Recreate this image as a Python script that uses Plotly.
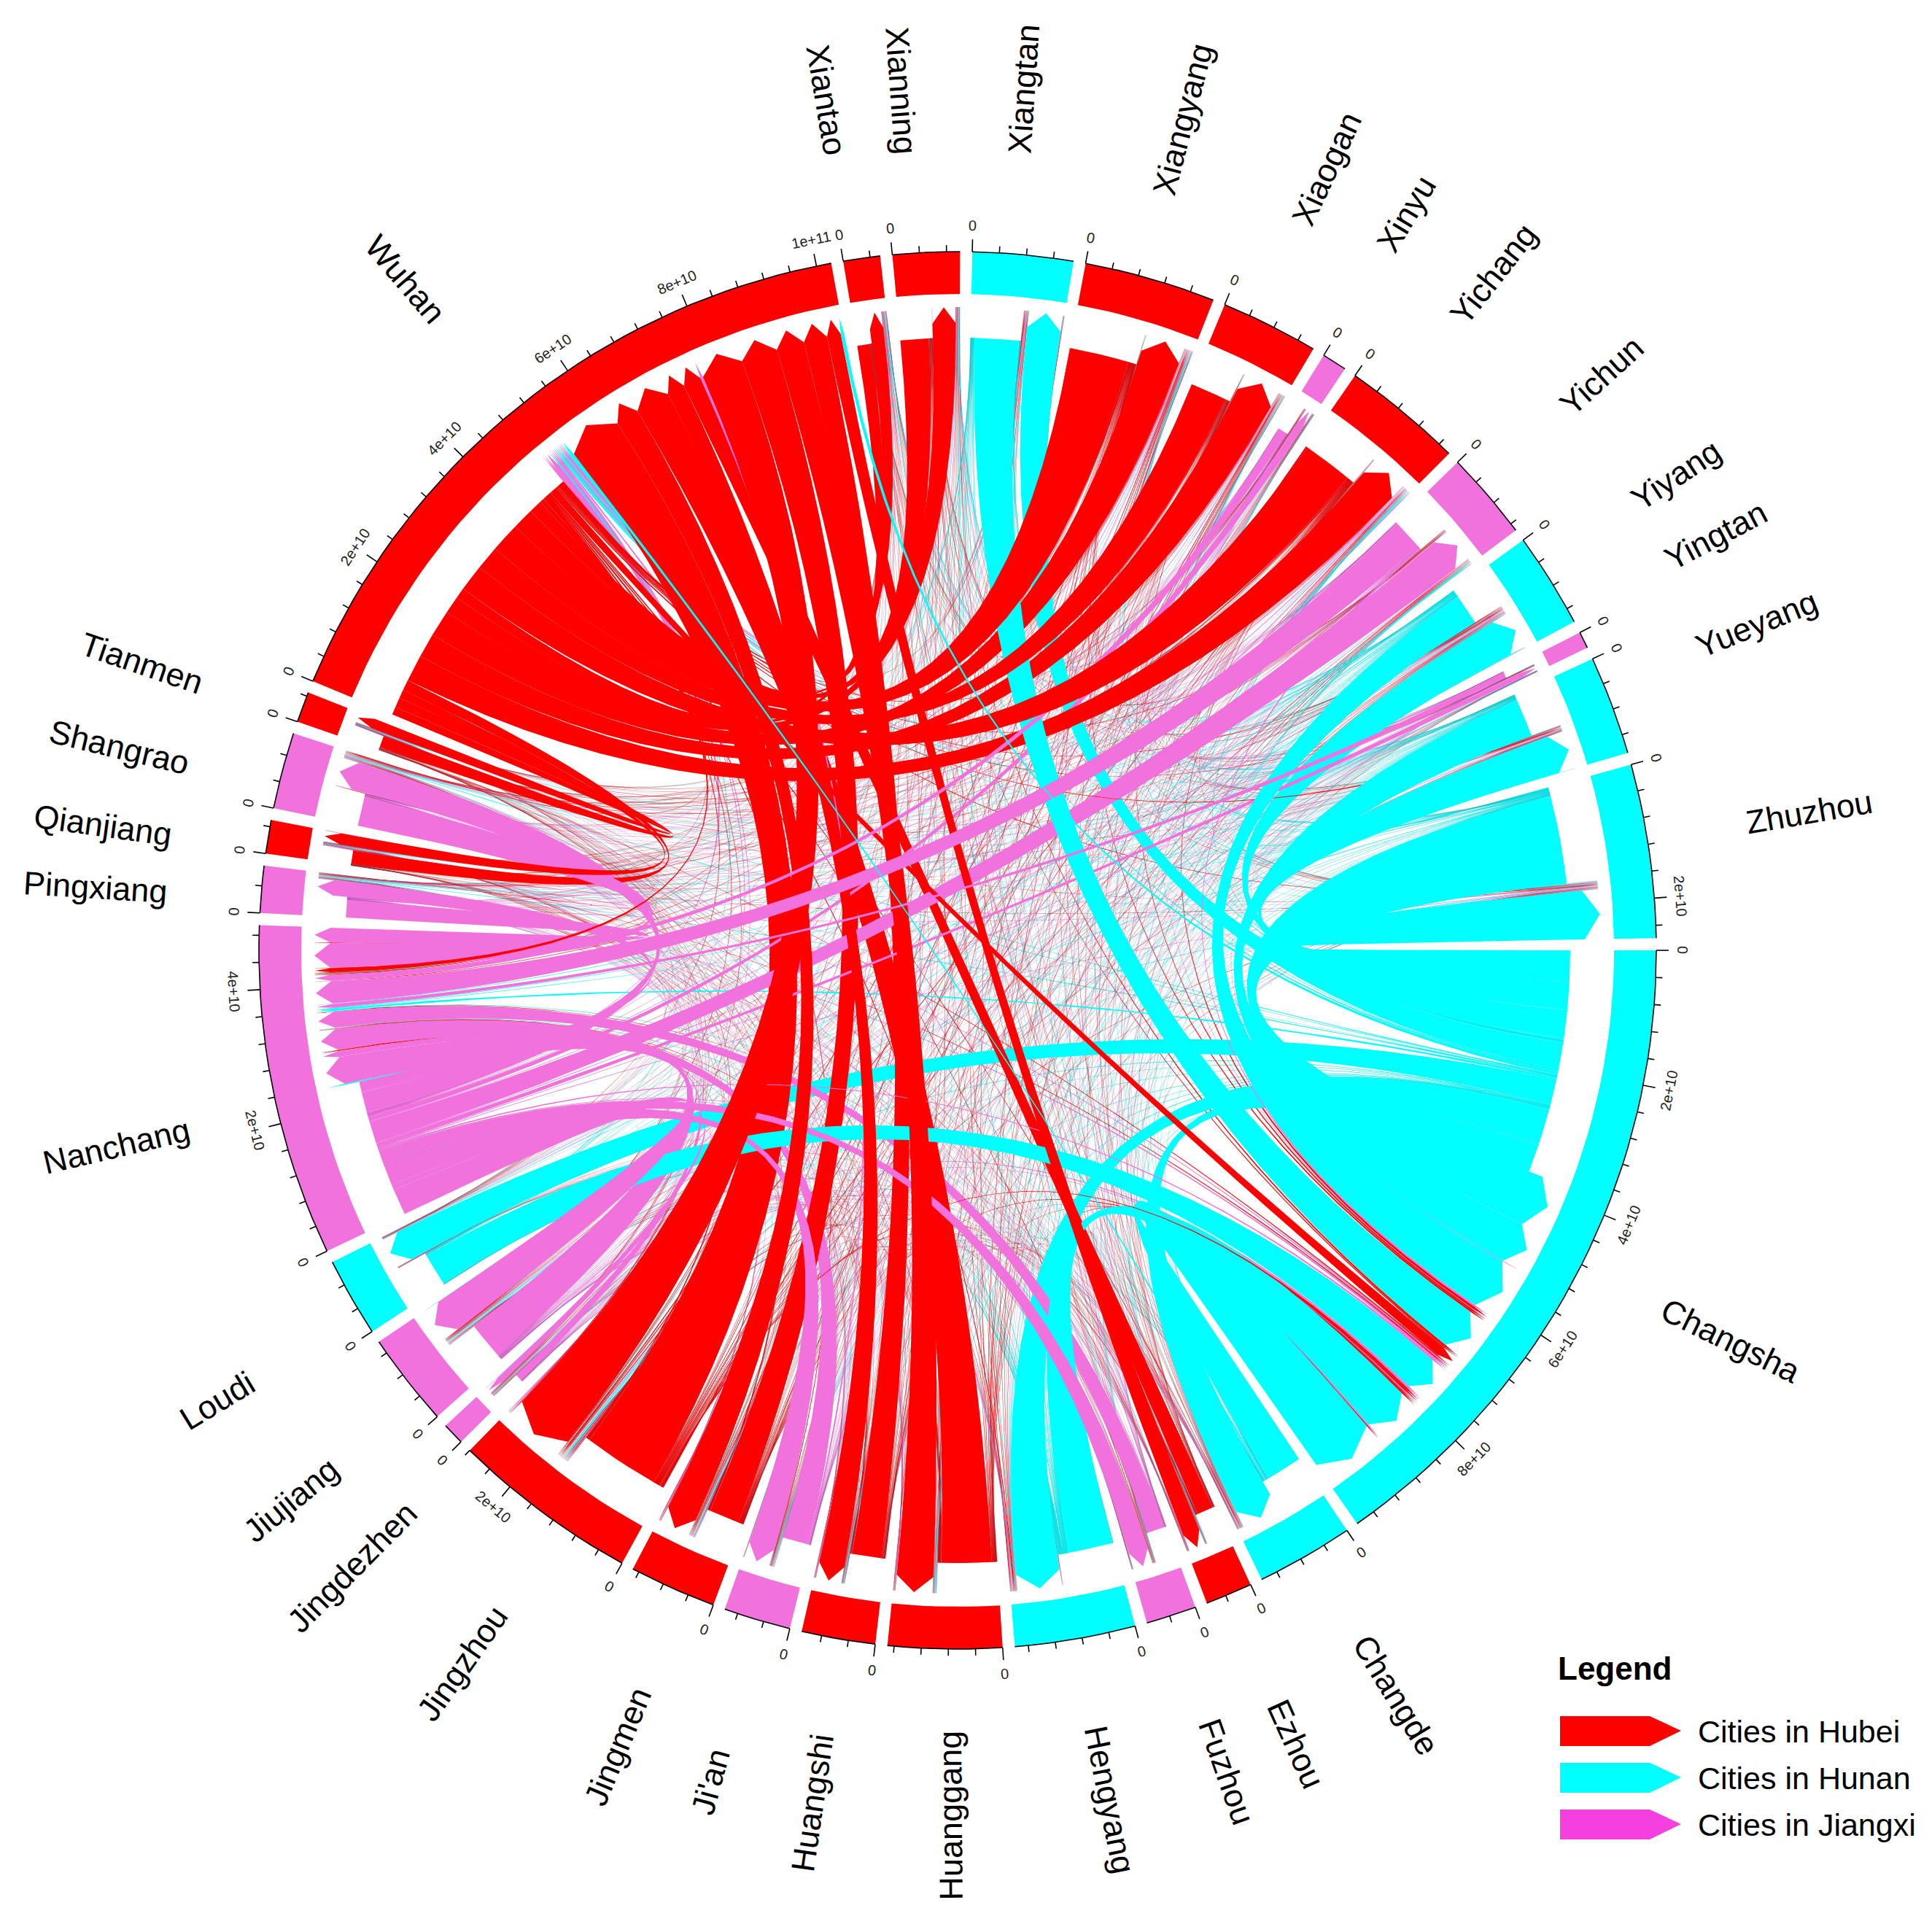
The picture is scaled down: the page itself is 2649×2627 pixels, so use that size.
import math
import plotly.graph_objects as go

# sectors clockwise from east, values in units of 1e10
cities = ["Changsha", "Changde", "Ezhou", "Fuzhou", "Hengyang", "Huanggang", "Huangshi", "Ji'an",
          "Jingmen", "Jingzhou", "Jingdezhen", "Jiujiang", "Loudi", "Nanchang", "Pingxiang", "Qianjiang",
          "Shangrao", "Tianmen", "Wuhan", "Xiantao", "Xianning", "Xiangtan", "Xiangyang", "Xiaogan",
          "Xinyu", "Yichang", "Yichun", "Yiyang", "Yingtan", "Yueyang", "Zhuzhou"]
provinces = ["Hunan", "Hunan", "Hubei", "Jiangxi", "Hunan", "Hubei", "Hubei", "Jiangxi",
             "Hubei", "Hubei", "Jiangxi", "Jiangxi", "Hunan", "Jiangxi", "Jiangxi", "Hubei",
             "Jiangxi", "Hubei", "Hubei", "Hubei", "Hubei", "Hunan", "Hubei", "Hubei",
             "Jiangxi", "Hubei", "Jiangxi", "Hunan", "Jiangxi", "Hunan", "Hunan"]
sector_out = [3.8, .72, .35, .35, .95, 1.0, .6, .48, .65, 1.55, .15, .72, .62, 2.35, .35, .26,
              .55, .25, 4.9, .25, .55, .85, 1.15, .7, .18, 1.0, .62, .65, .12, .75, 1.65]
sector_in = [6.1, .73, .35, .4, .85, .7, .5, .52, .65, 1.25, .18, .68, .56, 2.6, .35, .24,
             .59, .21, 5.32, .3, .45, .65, .81, .76, .19, .8, .7, .77, .13, .73, .94]

# visible flows: width at the source end and width at the arrow end
flow_from = ["Changsha"] * 10 + ["Zhuzhou", "Yueyang", "Yiyang", "Xiangtan", "Loudi", "Hengyang", "Changde",
             "Wuhan", "Nanchang", "Jingzhou", "Yichun"] + ["Wuhan"] * 14 + [
             "Ezhou", "Huanggang", "Huangshi", "Jingmen", "Jingzhou", "Qianjiang", "Tianmen", "Xiantao",
             "Xianning", "Xiangyang", "Xiaogan", "Yichang", "Ji'an", "Changde"] + ["Nanchang"] * 9 + [
             "Pingxiang", "Shangrao", "Jiujiang", "Jingdezhen", "Fuzhou", "Ji'an", "Xinyu", "Yichun", "Yingtan"]
flow_to = ["Zhuzhou", "Yueyang", "Yiyang", "Xiangtan", "Loudi", "Hengyang", "Changde", "Wuhan", "Nanchang", "Yichun"] + [
           "Changsha"] * 11 + ["Ezhou", "Huanggang", "Huangshi", "Jingmen", "Jingzhou", "Qianjiang", "Tianmen",
           "Xiantao", "Xianning", "Xiangyang", "Xiaogan", "Yichang", "Nanchang", "Yueyang"] + ["Wuhan"] * 14 + [
           "Pingxiang", "Shangrao", "Jiujiang", "Jingdezhen", "Fuzhou", "Ji'an", "Xinyu", "Yichun", "Yingtan"] + [
           "Nanchang"] * 9
flow_at_from = [.55, .5, .5, .48, .45, .62, .5, .06, .04, .02,
                1.5, .65, .5, .75, .55, .75, .62, .14, .03, .02, .03,
                .25, .5, .32, .42, .75, .16, .15, .2, .32, .5, .45, .5, .08, .02,
                .28, .85, .5, .52, 1.3, .22, .2, .22, .48, 1.0, .62, .85, .03, .03,
                .2, .4, .5, .1, .28, .38, .1, .42, .09,
                .3, .5, .62, .12, .3, .42, .14, .52, .09]
flow_at_to = [.8, .62, .6, .55, .5, .72, .62, .06, .04, .02,
              .85, .68, .85, .68, .58, .75, 1.05, .16, .03, .03, .03,
              .28, .6, .42, .5, 1.0, .18, .16, .22, .38, .65, .62, .62, .08, .02,
              .32, .62, .42, .65, .95, .2, .18, .2, .4, .55, .45, .5, .05, .05,
              .25, .45, .55, .1, .32, .42, .12, .55, .08,
              .3, .5, .55, .12, .32, .42, .12, .45, .08]
# thin threads drawn above the wide red fan
threads_on_top = [("Changde", "Wuhan"), ("Changsha", "Wuhan")]

# Wuhan's two fans, clockwise; a = Wuhan is the source, b = Wuhan is the target, None = all the rest
flat_partners = ["Tianmen", "Tianmen", "Qianjiang", "Qianjiang", "Yichang", "Xiaogan", "Xiangyang",
                 "Xianning", "Xiantao", "Yichang", "Xiaogan", "Xiangyang", "Xianning", "Xiantao", None]
flat_ends = ["a", "b", "a", "b", "a", "a", "a", "a", "a", "b", "b", "b", "b", "b", None]
arrow_partners = [None, "Changde", "Jingzhou", "Jingmen", "Huanggang", "Huangshi", "Ezhou", "Ji'an",
                  "Jingzhou", "Jingmen", "Huanggang", "Huangshi", "Ezhou", "Changsha"]
arrow_ends = [None, "b", "b", "a", "b", "a", "b", "b", "a", "b", "a", "b", "a", "b"]

# faint flows between all the other pairs, one digit per target city, same order as cities
weak_rows = [
    "03412 54232 23534 12416 23532 43524 4",
    "40213 22121 12312 11203 12121 21312 3",
    "21012 43122 11211 21412 21332 13211 2",
    "21101 22312 32121 31212 11111 13123 1",
    "51210 32312 21312 11303 12221 22312 4",
    "32312 04323 12212 21632 23432 24212 3",
    "22413 40222 12211 21422 22321 14211 2",
    "21121 11032 12322 31211 11112 14112 1",
    "31112 22102 11211 22521 12343 13211 2",
    "42213 22140 12322 32631 23443 25213 3",
    "11111 11211 02211 21111 11111 11121 1",
    "32122 43121 20322 21412 11211 22223 2",
    "42112 11211 12032 11212 31111 12312 4",
    "53323 33423 34305 34635 34333 35434 4",
    "31112 11311 22230 12112 21111 24112 3",
    "21111 12012 11111 02511 11221 11111 1",
    "21111 22121 21311 10211 11111 13132 1",
    "21111 21112 11111 10511 11322 11111 1",
    "54546 56546 34635 44604 55566 65456 5",
    "21111 11122 11111 21401 11122 11111 1",
    "31211 32122 12211 11520 11321 12112 2",
    "62112 22122 11412 11311 10112 11312 5",
    "32212 32144 11211 22622 20442 13212 2",
    "32212 32133 11211 22622 21032 13212 2",
    "11111 11111 11211 21111 11102 12111 1",
    "42212 22144 12211 22722 12330 13312 3",
    "31111 11211 12243 12312 11111 20112 2",
    "51111 21111 11411 11312 21111 21012 4",
    "11111 11111 22211 11111 11111 11101 1",
    "62112 32122 12312 11411 21211 11210 3",
    "73212 21112 12412 11312 51111 22413 0",
]

colors = {"Hubei": "#FF0000", "Hunan": "#00FFFF", "Jiangxi": "#F171DD"}
weak_edges = {"Hubei": "rgba(165,35,45,0.35)", "Hunan": "rgba(50,175,190,0.35)", "Jiangxi": "rgba(185,85,180,0.35)"}
legend_labels = ["Cities in Hubei", "Cities in Hunan", "Cities in Jiangxi"]
legend_colors = ["#FF0000", "#00FFFF", "#F53FDF"]
tick_step = 0.4
major_every = 5

# hand nudges for the city names, the original sets them a little off the sector middles
label_dx = [5, 10, 10, 8, 5, 7, 2, -5, 8, 16, 26, 13, -9, 5, 7, 6, -2, -10, -20, -11, -14, -12, -13, -11, -3,
            -9, 0, -1, -8, -3, 3]
label_dy = [-2, 7, 22, 17, 3, -1, 6, 28, 17, 20, 11, 20, 33, 22, 17, 20, 22, 15, -8, 5, 10, 6, 13, -6, -18,
            -8, -12, -15, -22, -15, -7]

W, H = 2649, 2627
# the page adds an 8px body margin, so everything is placed 8px up and left
CX, CY = 1305, 1295
R_OUT, R_IN = 958, 900
R_FLAT, R_SHOULDER, R_TIP = 840, 860, 882
GAP = 1.0
FONT = "Liberation Sans, Arial, sans-serif"

n = len(cities)
index = {c: i for i, c in enumerate(cities)}
totals = [a + b for a, b in zip(sector_out, sector_in)]
deg_per_unit = (360 - n * GAP) / sum(totals)
hub = index["Wuhan"]
flat_order = list(zip(flat_partners, flat_ends))
arrow_order = list(zip(arrow_partners, arrow_ends))


def pol(theta, r):
    t = math.radians(theta)
    return CX + r * math.cos(t), CY + r * math.sin(t)


def arc(t1, t2, r):
    steps = max(2, int(abs(t2 - t1) / 1.5) + 2)
    return [pol(t1 + (t2 - t1) * k / (steps - 1), r) for k in range(steps)]


def bezier(p0, p1, steps=28):
    # quadratic curve pulled to the centre of the circle, like circlize links
    pts = []
    for k in range(steps + 1):
        s = k / steps
        pts.append(((1 - s) ** 2 * p0[0] + 2 * s * (1 - s) * CX + s ** 2 * p1[0],
                    (1 - s) ** 2 * p0[1] + 2 * s * (1 - s) * CY + s ** 2 * p1[1]))
    return pts


def end_points(span, zone):
    if zone == "flat":
        return arc(span[0], span[1], R_FLAT)
    return [pol(span[0], R_SHOULDER), pol((span[0] + span[1]) / 2, R_TIP), pol(span[1], R_SHOULDER)]


def ribbon(k):
    a = end_points(spans[(k, "a")], zones[(k, "a")])
    b = end_points(spans[(k, "b")], zones[(k, "b")])
    return a + bezier(a[-1], b[0]) + b + bezier(b[-1], a[0])


strong = {}
for f, t, wf, wt in zip(flow_from, flow_to, flow_at_from, flow_at_to):
    strong[(index[f], index[t])] = (wf, wt)
weak = {}
for i, row in enumerate(weak_rows):
    for j, ch in enumerate(row.replace(" ", "")):
        if i != j and int(ch) > 0 and (i, j) not in strong:
            weak[(i, j)] = int(ch)


def zone_of(s, other, end):
    if s == hub and (cities[other], end) in flat_order:
        return "flat"
    if s == hub and (cities[other], end) in arrow_order:
        return "arrow"
    return "flat" if end == "a" else "arrow"


def order_key(s, other, end, zone):
    if s == hub:
        order = flat_order if zone == "flat" else arrow_order
        slot = (cities[other], end)
        rank = order.index(slot) if slot in order else order.index((None, None))
        return (rank, -((other - s) % n), end)
    return (0, -((other - s) % n), end)


# collect the ends of every link per sector and per zone
ends = {}
zones = {}
for k in list(strong) + list(weak):
    for s, other, end in ((k[0], k[1], "a"), (k[1], k[0], "b")):
        z = zone_of(s, other, end)
        zones[(k, end)] = z
        ends.setdefault((s, z), []).append((k, other, end))

# strong links keep their width, weak ones fill what is left of the zone
spans = {}
start = []
cur = 0.0
for s in range(n):
    start.append(cur)
    cur += totals[s] * deg_per_unit + GAP

for s in range(n):
    for z, target, t0 in (("flat", sector_out[s], start[s]),
                          ("arrow", sector_in[s], start[s] + sector_out[s] * deg_per_unit)):
        items = ends.get((s, z), [])
        st_sum = sum(strong[k][0 if e == "a" else 1] for k, o, e in items if k in strong)
        wk_sum = sum(weak[k] for k, o, e in items if k in weak)
        fac = min(1.0, target * 0.93 / st_sum) if st_sum else 1.0
        rest = target - st_sum * fac
        items = sorted(items, key=lambda it: order_key(s, it[1], it[2], z))
        pos = t0
        for k, o, e in items:
            if k in strong:
                w = strong[k][0 if e == "a" else 1] * fac
            else:
                w = weak[k] / wk_sum * rest
            w *= deg_per_unit
            spans[(k, e)] = (pos, pos + w)
            pos += w

fig = go.Figure()


def add_poly(xs, ys, color, edge=None, edge_width=0):
    fig.add_trace(go.Scatter(x=xs, y=ys, mode="lines", fill="toself", fillcolor=color,
                             line=dict(width=edge_width, color=edge or color), hoverinfo="skip", showlegend=False))


# faint links first, grouped by source
for s in range(n):
    xs, ys = [], []
    for k in weak:
        if k[0] != s:
            continue
        pts = ribbon(k)
        xs += [p[0] for p in pts] + [pts[0][0], None]
        ys += [p[1] for p in pts] + [pts[0][1], None]
    if xs:
        add_poly(xs, ys, colors[provinces[s]], weak_edges[provinces[s]], 0.35)

# visible links, in source order so later cities lie on top
top_keys = [(index[a], index[b]) for a, b in threads_on_top]
for k in sorted(strong, key=lambda q: (q in top_keys, q)):
    pts = ribbon(k)
    add_poly([p[0] for p in pts], [p[1] for p in pts], colors[provinces[k[0]]])

# outer ring, axis and tick labels
annotations = []
tx, ty = [], []
for s in range(n):
    t0 = start[s]
    t1 = t0 + totals[s] * deg_per_unit
    pts = arc(t0, t1, R_OUT) + arc(t1, t0, R_IN)
    add_poly([p[0] for p in pts], [p[1] for p in pts], colors[provinces[s]])
    ax = arc(t0, t1, R_OUT)
    tx += [p[0] for p in ax] + [None]
    ty += [p[1] for p in ax] + [None]
    k = 0
    while k * tick_step <= totals[s] + 1e-9:
        v = k * tick_step
        th = t0 + v * deg_per_unit
        major = k % major_every == 0
        p0 = pol(th, R_OUT)
        p1 = pol(th, R_OUT + (17 if major else 9))
        tx += [p0[0], p1[0], None]
        ty += [p0[1], p1[1], None]
        if major:
            p = pol(th, R_OUT + 36)
            if v == 0:
                label = "0"
            elif v >= 10:
                label = "%de+%d" % (round(v / 10), 11)
            else:
                label = "%de+10" % round(v)
            annotations.append(dict(x=p[0], y=p[1], text=label, showarrow=False,
                                    textangle=(th - 90) if th < 180 else (th - 270),
                                    font=dict(family=FONT, size=20, color="#222222"),
                                    xanchor="center", yanchor="middle"))
        k += 1

    mid = (t0 + t1) / 2
    name = cities[s]
    r_label = 1093 + len(name) * 0.52 * 45 / 2
    p = pol(mid, r_label)
    rot = mid if (mid < 90 or mid > 270) else mid - 180
    if rot > 180:
        rot -= 360
    annotations.append(dict(x=p[0] + label_dx[s] * 1.69, y=p[1] - 10 + label_dy[s] * 1.69, text=name,
                            showarrow=False, textangle=rot - 1.5,
                            font=dict(family=FONT, size=45, color="black"),
                            xanchor="center", yanchor="middle"))

fig.add_trace(go.Scatter(x=tx, y=ty, mode="lines", line=dict(color="black", width=1.6),
                         hoverinfo="skip", showlegend=False))

# legend
shapes = []
annotations.append(dict(x=2126, y=2279, text="<b>Legend</b>", showarrow=False, xanchor="left", yanchor="middle",
                        font=dict(family=FONT, size=44, color="black")))
for lab, col, y0 in zip(legend_labels, legend_colors, [2345, 2409, 2473]):
    y1 = y0 + 41
    path = "M2131,%d L2254,%d L2297,%d L2254,%d L2131,%d Z" % (y0, y0, (y0 + y1) // 2, y1, y1)
    shapes.append(dict(type="path", path=path, fillcolor=col, line=dict(width=0), layer="above"))
    annotations.append(dict(x=2318, y=(y0 + y1) / 2, text=lab, showarrow=False, xanchor="left", yanchor="middle",
                            font=dict(family=FONT, size=43, color="black")))

fig.update_layout(width=W, height=H, margin=dict(l=0, r=0, t=0, b=0), paper_bgcolor="white",
                  plot_bgcolor="white", showlegend=False, annotations=annotations, shapes=shapes,
                  xaxis=dict(range=[0, W], visible=False, fixedrange=True),
                  yaxis=dict(range=[H, 0], visible=False, fixedrange=True))
fig.write_html("out.html")
